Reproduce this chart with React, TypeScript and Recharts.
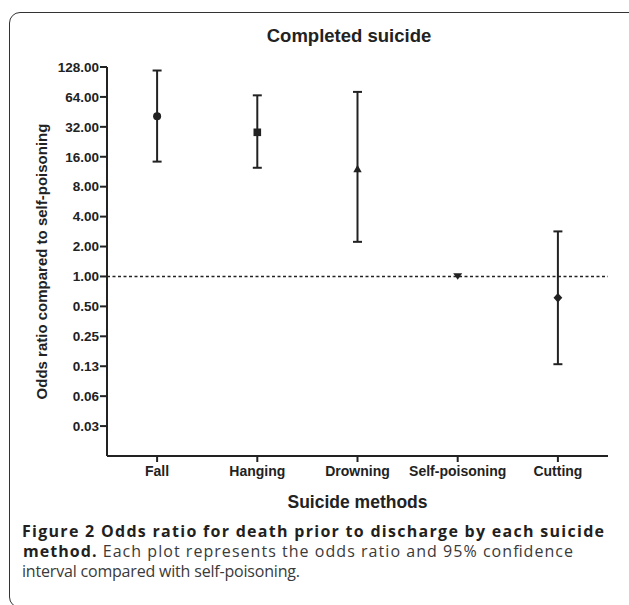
import React from "react";
import {
  ComposedChart,
  ErrorBar,
  Label,
  ReferenceLine,
  Scatter,
  XAxis,
  YAxis,
} from "recharts";

// values (odds ratio + 95% CI, log2 axis)
const methods = ["Fall", "Hanging", "Drowning", "Self-poisoning", "Cutting"];
const oddsRatios = [41, 28.2, 11.9, 1, 0.61];
const ciLow: (number | null)[] = [14.3, 12.4, 2.23, null, 0.131];
const ciHigh: (number | null)[] = [118, 66.4, 71.9, null, 2.84];
const markerShapes = ["circle", "square", "triangle", "triangleDown", "diamond"];
const yTicks = [0.03125, 0.0625, 0.125, 0.25, 0.5, 1, 2, 4, 8, 16, 32, 64, 128];
const yDomain = [0.015625, 128];

const INK = "#222";
const CHART_FONT = '"Liberation Sans", Arial, sans-serif';
const CAPTION_FONT = '"Open Sans", "Noto Sans", sans-serif';

const data = methods.map((method, i) => ({
  method,
  or: oddsRatios[i],
  ci:
    ciLow[i] == null
      ? null
      : [oddsRatios[i] - (ciLow[i] as number), (ciHigh[i] as number) - oddsRatios[i]],
  shape: markerShapes[i],
}));

function Marker(props: any) {
  const { cx, cy, payload } = props;
  if (cx == null || cy == null) return null;
  switch (payload.shape) {
    case "circle":
      return <circle cx={cx} cy={cy} r={4} fill={INK} />;
    case "square":
      return <rect x={cx - 3.8} y={cy - 3.8} width={7.6} height={7.6} fill={INK} />;
    case "triangle":
      return <path d={`M${cx},${cy - 4.8}L${cx + 4.2},${cy + 2.6}L${cx - 4.2},${cy + 2.6}Z`} fill={INK} />;
    case "triangleDown":
      return <path d={`M${cx - 4.5},${cy - 3.2}L${cx + 4.5},${cy - 3.2}L${cx},${cy + 3.4}Z`} fill={INK} />;
    default:
      return <path d={`M${cx},${cy - 4.8}L${cx + 4.4},${cy}L${cx},${cy + 4.8}L${cx - 4.4},${cy}Z`} fill={INK} />;
  }
}

export default function App() {
  return (
    <div
      style={{
        position: "absolute",
        top: 0,
        left: 0,
        width: 629,
        height: 605,
        overflow: "hidden",
        background: "#fff",
      }}
    >
      <div
        style={{
          position: "absolute",
          left: 9,
          top: 12,
          width: 640,
          height: 596,
          border: "1.5px solid #333",
          borderRadius: 11,
          boxSizing: "border-box",
        }}
      />
      <div style={{ position: "absolute", top: 0, left: 0 }}>
        <ComposedChart
          width={629}
          height={520}
          data={data}
          margin={{ top: 67, right: 21, bottom: 4, left: 0 }}
        >
          <XAxis
            dataKey="method"
            type="category"
            scale="band"
            interval={0}
            height={60}
            tickSize={6}
            tickMargin={4}
            axisLine={{ stroke: INK, strokeWidth: 2 }}
            tickLine={{ stroke: INK, strokeWidth: 2 }}
            tick={{ fill: INK, fontSize: 14, fontWeight: 700, fontFamily: CHART_FONT }}
          >
            <Label
              value="Suicide methods"
              position="insideBottom"
              offset={8}
              fill={INK}
              style={{ fontSize: 17.5, fontWeight: 700, fontFamily: CHART_FONT }}
            />
          </XAxis>
          <YAxis
            type="number"
            scale="log"
            domain={yDomain}
            ticks={yTicks}
            interval={0}
            allowDataOverflow
            width={107}
            tickSize={7}
            tickMargin={1}
            tickFormatter={(v: number) => v.toFixed(2)}
            axisLine={{ stroke: INK, strokeWidth: 2 }}
            tickLine={{ stroke: INK, strokeWidth: 2 }}
            tick={{ fill: INK, fontSize: 13.5, fontWeight: 700, fontFamily: CHART_FONT }}
          >
            <Label
              value="Odds ratio compared to self-poisoning"
              angle={-90}
              position="insideLeft"
              offset={42}
              fill={INK}
              style={{
                textAnchor: "middle",
                fontSize: 15,
                fontWeight: 700,
                fontFamily: CHART_FONT,
              }}
            />
          </YAxis>
          <ReferenceLine y={1} stroke={INK} strokeWidth={1.6} strokeDasharray="3 2.5" />
          <Scatter dataKey="or" shape={Marker} isAnimationActive={false}>
            <ErrorBar
              dataKey="ci"
              direction="y"
              width={4.5}
              stroke={INK}
              strokeWidth={2}
              isAnimationActive={false}
            />
          </Scatter>
        </ComposedChart>
      </div>
      <svg
        width={629}
        height={605}
        style={{ position: "absolute", top: 0, left: 0, pointerEvents: "none" }}
      >
        <text
          x={349}
          y={41.5}
          textAnchor="middle"
          fill={INK}
          style={{ fontFamily: CHART_FONT, fontSize: 18.5, fontWeight: 700 }}
        >
          Completed suicide
        </text>
        <g style={{ fontFamily: CAPTION_FONT, fontSize: 16 }} fill="#231f20">
          <text x={22} y={537} textLength={582} lengthAdjust="spacing" fontWeight={700}>
            Figure 2 Odds ratio for death prior to discharge by each suicide
          </text>
          <text x={23} y={557} textLength={550} lengthAdjust="spacing">
            <tspan fontWeight={700}>method.</tspan>
            <tspan fill="#3a3a3a"> Each plot represents the odds ratio and 95% confidence</tspan>
          </text>
          <text x={22} y={577} textLength={278} lengthAdjust="spacing" fill="#3a3a3a">
            interval compared with self-poisoning.
          </text>
        </g>
      </svg>
    </div>
  );
}
